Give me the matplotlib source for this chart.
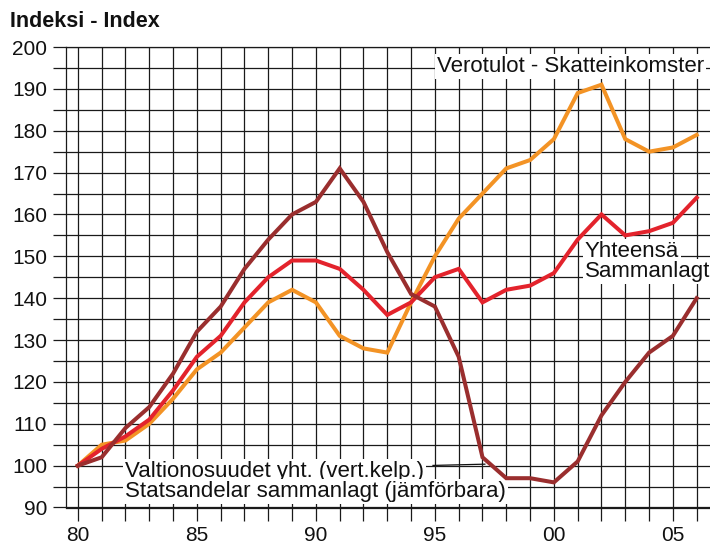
import matplotlib
matplotlib.use("Agg")
import matplotlib.pyplot as plt
import numpy as np

plt.rcParams['font.family'] = ['Liberation Sans', 'DejaVu Sans']

years = list(range(1980, 2007))
verotulot = [100, 105, 106, 110, 116, 123, 127, 133, 139, 142, 139, 131, 128, 127,
             139, 150, 159, 165, 171, 173, 178, 189, 191, 178, 175, 176, 179]
yhteensa = [100, 104, 107, 111, 118, 126, 131, 139, 145, 149, 149, 147, 142, 136,
            139, 145, 147, 139, 142, 143, 146, 154, 160, 155, 156, 158, 164]
valtionosuudet = [100, 102, 109, 114, 122, 132, 138, 147, 154, 160, 163, 171, 163, 151,
                  141, 138, 126, 102, 97, 97, 96, 101, 112, 120, 127, 131, 140]

title = "Indeksi - Index"
label_vero = "Verotulot - Skatteinkomster"
label_yht = ["Yhteensä", "Sammanlagt"]
label_valt = ["Valtionosuudet yht. (vert.kelp.)", "Statsandelar sammanlagt (jämförbara)"]

c_orange = '#F39325'
c_red = '#E3232C'
c_brown = '#9A2E2E'
gridc = '#1a1a1a'

fig = plt.figure(figsize=(7.10, 5.49), dpi=100)
ax = fig.add_axes([66/710, (549-507.5)/549, (710-66)/710, (507.5-47)/549])

ax.set_xlim(1979.5, 2006.56)
ax.set_ylim(90, 200)

xt = years
ax.set_xticks(xt)
ax.set_xticklabels([f"{y % 100:02d}" if y % 5 == 0 else "" for y in xt])
yt = list(range(90, 201, 5))
ax.set_yticks(yt)
ax.set_yticklabels([str(v) if v % 10 == 0 else "" for v in yt])

ax.tick_params(axis='both', direction='out', length=9.5, width=0.9, color=gridc,
               labelsize=15, labelcolor='#111111')
ax.tick_params(axis='x', pad=4)
ax.tick_params(axis='y', pad=4)

ax.set_axisbelow(True)
ax.grid(True, color=gridc, lw=0.9)
for s in ['left', 'bottom', 'top']:
    ax.spines[s].set_color(gridc)
    ax.spines[s].set_linewidth(0.9)
ax.spines['right'].set_visible(False)

lw = 2.9
ax.plot(years, verotulot, color=c_orange, lw=lw, zorder=3, solid_joinstyle='miter')
ax.plot(years, yhteensa, color=c_red, lw=lw, zorder=3.1, solid_joinstyle='miter')
ax.plot(years, valtionosuudet, color=c_brown, lw=lw, zorder=3.2, solid_joinstyle='miter')

fs = 16
bb = dict(facecolor='white', edgecolor='none', pad=1.5)
ax.text(1995.08, 194.0, label_vero, fontsize=fs, color='#111111', va='baseline', ha='left',
        bbox=bb, zorder=2)
ax.text(2001.3, 149.9, label_yht[0], fontsize=fs, color='#111111', va='baseline', ha='left',
        bbox=bb, zorder=2)
ax.text(2001.3, 145.1, label_yht[1], fontsize=fs, color='#111111', va='baseline', ha='left',
        bbox=bb, zorder=2)
ax.text(1981.98, 97.4, label_valt[0], fontsize=fs, color='#111111', va='baseline', ha='left',
        bbox=bb, zorder=2)
ax.text(1981.98, 92.5, label_valt[1], fontsize=fs, color='#111111', va='baseline', ha='left',
        bbox=bb, zorder=2)
ax.plot([1994.92, 1997.1], [100.05, 100.35], color='#111111', lw=0.9, zorder=2.5)

fig.text(10/710, 1 - 27/549, title, fontsize=15.5, fontweight='bold', color='#111111',
         ha='left', va='baseline')

fig.savefig('out.png', dpi=100, facecolor='white')
